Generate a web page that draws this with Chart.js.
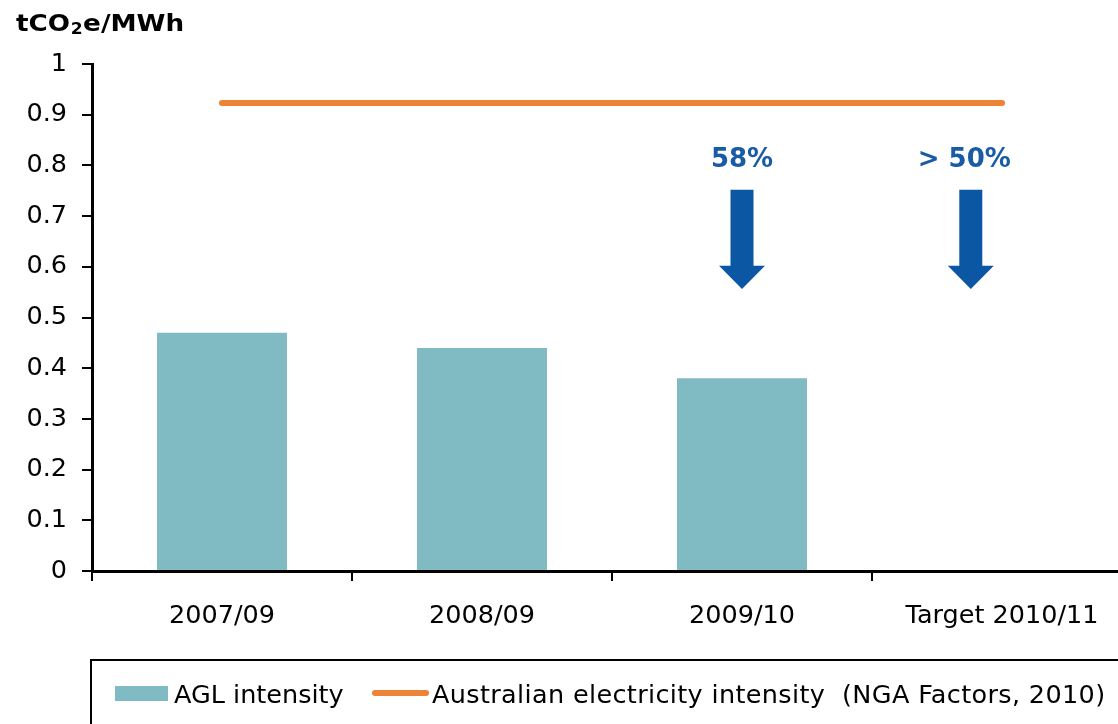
<!DOCTYPE html>
<html>
<head>
<meta charset="utf-8">
<script src="https://cdn.jsdelivr.net/npm/chart.js@4"></script>
<style>
  html, body { margin: 0; padding: 0; background: #fff; overflow: hidden; width: 1118px; height: 724px; }
  canvas { display: block; }
</style>
</head>
<body>
<canvas id="c" width="1140" height="724"></canvas>
<script>
// ---- data ----
const categories = ['2007/09', '2008/09', '2009/10', 'Target 2010/11'];
const aglIntensity = [0.47, 0.44, 0.38, null];
const australianIntensity = [0.923, 0.923, 0.923, 0.923];
const seriesNames = ['AGL intensity', 'Australian electricity intensity  (NGA Factors, 2010)'];
const yTicks = [0, 0.1, 0.2, 0.3, 0.4, 0.5, 0.6, 0.7, 0.8, 0.9, 1];
const yTitleParts = ['tCO', '2', 'e/MWh'];
const annotationLabels = ['58%', '> 50%'];
const annotationArrowX = [2, 2.88];      // category index (fractional)
const annotationLabelX = [2, 2.855];
const arrowTop = 0.752, arrowHeadBase = 0.602, arrowTip = 0.556, labelBaseline = 0.797;

const FONT = '"DejaVu Sans", Verdana, sans-serif';
const BAR_COLOR = '#80BAC2';
const LINE_COLOR = '#ED8334';
const ARROW_COLOR = '#0B57A4';

const overlay = {
  id: 'overlay',
  afterDatasetsDraw(chart) {
    const ctx = chart.ctx;
    const x = chart.scales.x, y = chart.scales.y;
    ctx.save();
    ctx.fillStyle = ARROW_COLOR;
    annotationArrowX.forEach(v => {
      const cx = x.getPixelForValue(v);
      const yt = y.getPixelForValue(arrowTop);
      const yb = y.getPixelForValue(arrowHeadBase);
      const ytip = y.getPixelForValue(arrowTip);
      ctx.beginPath();
      ctx.moveTo(cx - 11.5, yt);
      ctx.lineTo(cx + 11.5, yt);
      ctx.lineTo(cx + 11.5, yb);
      ctx.lineTo(cx + 23, yb);
      ctx.lineTo(cx, ytip);
      ctx.lineTo(cx - 23, yb);
      ctx.lineTo(cx - 11.5, yb);
      ctx.closePath();
      ctx.fill();
    });
    ctx.fillStyle = '#1A5BA6';
    ctx.font = 'bold 26px ' + FONT;
    ctx.textAlign = 'center';
    ctx.textBaseline = 'alphabetic';
    annotationLabels.forEach((t, i) => {
      ctx.fillText(t, x.getPixelForValue(annotationLabelX[i]), y.getPixelForValue(labelBaseline));
    });
    ctx.restore();
  },
  afterDraw(chart) {
    const ctx = chart.ctx;
    ctx.save();
    // axis title (stretched horizontally like the original)
    ctx.fillStyle = '#000';
    ctx.textAlign = 'left';
    ctx.textBaseline = 'alphabetic';
    ctx.save();
    ctx.translate(16, 31);
    ctx.scale(1.14, 1);
    let cx = 0;
    ctx.font = 'bold 23px ' + FONT;
    ctx.fillText(yTitleParts[0], cx, 0);
    cx += ctx.measureText(yTitleParts[0]).width + 0.5;
    ctx.font = 'bold 15px ' + FONT;
    ctx.fillText(yTitleParts[1], cx, 3);
    cx += ctx.measureText(yTitleParts[1]).width + 0.5;
    ctx.font = 'bold 23px ' + FONT;
    ctx.fillText(yTitleParts[2], cx, 0);
    ctx.restore();
    // legend box
    ctx.strokeStyle = '#000';
    ctx.lineWidth = 2;
    ctx.strokeRect(91, 660, 1100, 200);
    const bar = chart.data.datasets.find(d => d.type === 'bar');
    const line = chart.data.datasets.find(d => d.type === 'line');
    ctx.font = '25.5px ' + FONT;
    ctx.fillStyle = bar.backgroundColor;
    ctx.fillRect(115, 686, 53, 15);
    ctx.fillStyle = '#000';
    ctx.fillText(bar.label, 174, 703);
    ctx.strokeStyle = line.borderColor;
    ctx.lineWidth = 6;
    ctx.lineCap = 'round';
    ctx.beginPath();
    ctx.moveTo(375, 693);
    ctx.lineTo(426, 693);
    ctx.stroke();
    ctx.fillStyle = '#000';
    ctx.letterSpacing = '0.35px';
    ctx.fillText(line.label, 432, 703);
    ctx.restore();
  }
};

new Chart(document.getElementById('c'), {
  type: 'bar',
  data: {
    labels: categories,
    datasets: [
      {
        type: 'line',
        label: seriesNames[1],
        data: australianIntensity,
        borderColor: LINE_COLOR,
        backgroundColor: LINE_COLOR,
        borderWidth: 6,
        borderCapStyle: 'round',
        pointRadius: 0,
        tension: 0,
        order: 0
      },
      {
        type: 'bar',
        label: seriesNames[0],
        data: aglIntensity,
        backgroundColor: BAR_COLOR,
        borderWidth: 0,
        categoryPercentage: 1,
        barPercentage: 0.5,
        order: 1
      }
    ]
  },
  options: {
    responsive: false,
    animation: false,
    devicePixelRatio: 1,
    layout: { padding: { left: 0, top: 64, right: 8, bottom: 0 } },
    plugins: { legend: { display: false }, title: { display: false }, tooltip: { enabled: false } },
    scales: {
      x: {
        grid: { offset: true, drawOnChartArea: false, drawTicks: true, tickLength: 10, color: '#000', lineWidth: 2 },
        border: { display: true, color: '#000', width: 3 },
        ticks: { color: '#000', font: { family: FONT, size: 25.5 }, padding: 20, maxRotation: 0, autoSkip: false },
        afterFit(s) { s.height = 153; }
      },
      y: {
        min: 0, max: 1,
        afterBuildTicks(s) { s.ticks = yTicks.map(v => ({ value: v })); },
        grid: { drawOnChartArea: false, drawTicks: true, tickLength: 10, color: '#000', lineWidth: 2 },
        border: { display: true, color: '#000', width: 3 },
        ticks: { color: '#000', font: { family: FONT, size: 25.5 }, padding: 15,
                 callback: v => String(Math.round(v * 10) / 10) },
        afterFit(s) { s.width = 92; }
      }
    }
  },
  plugins: [overlay]
});
</script>
</body>
</html>
